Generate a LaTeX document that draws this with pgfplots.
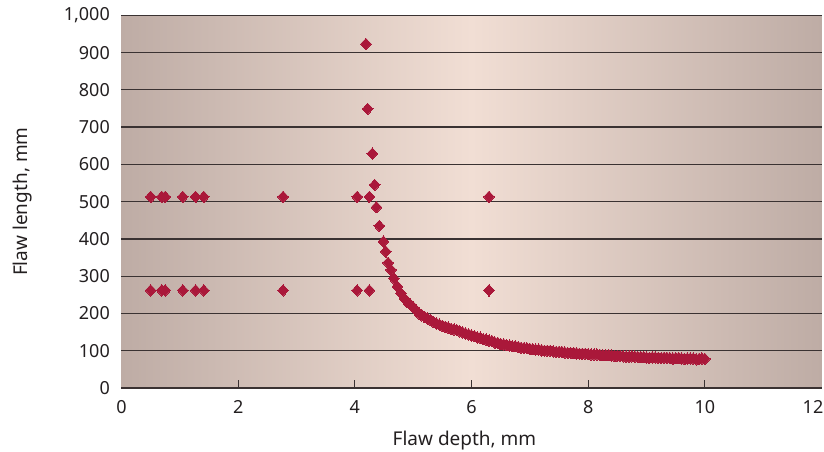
\documentclass[border=0pt]{standalone}
\usepackage{fontspec}
\setmainfont{Noto Sans}
\usepackage{pgfplots}
\usepackage{pgfplotstable}
\pgfplotsset{compat=1.18}
\definecolor{bgedge}{RGB}{190,172,165}
\definecolor{bgmid}{RGB}{241,222,212}
\definecolor{mkred}{RGB}{170,24,58}
\definecolor{gridc}{RGB}{58,50,50}
\definecolor{txt}{RGB}{35,31,32}

% flaw depth (mm) vs flaw length (mm)
\pgfplotstableread{
x y
0.50 513
0.69 513
0.75 513
1.05 513
1.27 513
1.41 513
2.77 513
4.04 513
4.25 513
6.30 513
0.50 262
0.69 262
0.75 262
1.05 262
1.27 262
1.41 262
2.77 262
4.04 262
4.25 262
6.30 262
4.19 923
4.22 749
4.30 629
4.34 545
4.37 485
4.42 435
4.49 393
4.53 366
4.57 336
4.62 317
4.67 294
4.73 272
4.79 254
4.85 240
4.90 231
4.95 224
5.00 217
5.05 208
5.10 200
5.15 195
5.20 190
5.25 186
5.30 182
5.35 177
5.40 173
5.45 170
5.50 167
5.55 164
5.60 162
5.65 159
5.70 157
5.75 155
5.80 152
5.85 149
5.90 146
5.95 144
6.00 141
6.05 139
6.10 136
6.15 135
6.20 131
6.25 130
6.30 127
6.35 126
6.40 122
6.45 121
6.50 118
6.55 117
6.60 115
6.65 114
6.70 112
6.75 112
6.80 110
6.85 108
6.90 107
6.95 107
7.00 105
7.05 104
7.10 103
7.15 103
7.20 101
7.25 100
7.30 100
7.35 100
7.40 98
7.45 97
7.50 97
7.55 97
7.60 95
7.65 94
7.70 94
7.75 94
7.80 93
7.85 92
7.90 92
7.95 92
8.00 91
8.05 90
8.10 90
8.15 90
8.20 89
8.25 88
8.30 88
8.35 88
8.40 87
8.45 86
8.50 86
8.55 86
8.60 85
8.65 84
8.70 84
8.75 85
8.80 84
8.85 83
8.90 83
8.95 83
9.00 82
9.05 81
9.10 82
9.15 82
9.20 81
9.25 80
9.30 81
9.35 81
9.40 80
9.45 79
9.50 80
9.55 80
9.60 79
9.65 78
9.70 79
9.75 79
9.80 79
9.85 77
9.90 78
9.95 79
10.00 78
}\flawdata

\begin{document}
\begin{tikzpicture}
\begin{axis}[
    scale only axis,
    width=700pt, height=372.7pt,
    xmin=0, xmax=12, ymin=0, ymax=1000,
    axis lines*=left,
    axis line style={draw=none},
    every outer x axis line/.append style={draw=none},
    every outer y axis line/.append style={draw=none},
    xtick={2,4,...,10},
    extra x ticks={0,12},
    extra x tick labels={0,\hspace*{-17pt}12},
    extra x tick style={grid=none, major tick length=0pt, tick style={draw=none}},
    ytick={0,100,...,1000},
    scaled y ticks=false,
    ymajorgrids,
    grid style={gridc, line width=1.3pt},
    tick align=inside,
    major tick length=8pt,
    xtick style={gridc, line width=1pt},
    ytick style={draw=none},
    axis background/.style={draw=none, left color=bgedge, right color=bgedge, middle color=bgmid},
    /pgf/number format/assume math mode=true,
    tick label style={font=\fontsize{18}{21}\selectfont, text=txt, inner sep=0pt},
    yticklabel style={xshift=-11.5pt},
    xticklabel style={yshift=-12pt},
    xlabel={Flaw depth, mm},
    ylabel={Flaw length, mm},
    xlabel style={at={(axis description cs:0.49,0)}, anchor=base, yshift=-57.5pt,
        font=\fontsize{19}{22}\selectfont, text=txt, inner sep=0pt},
    ylabel style={at={([xshift=-93.5pt]axis description cs:0,0.5)}, anchor=base,
        font=\fontsize{19}{22}\selectfont, text=txt, inner sep=0pt},
]
\addplot[only marks, color=mkred, mark=diamond*, mark size=5.7pt,
    mark options={fill=mkred, draw=mkred, line width=0pt, xscale=1.25}] table[x=x, y=y] {\flawdata};
\end{axis}
\pgfresetboundingbox
\path (-121.5pt,-63pt) rectangle (702.5pt,388pt);
\end{tikzpicture}
\end{document}
